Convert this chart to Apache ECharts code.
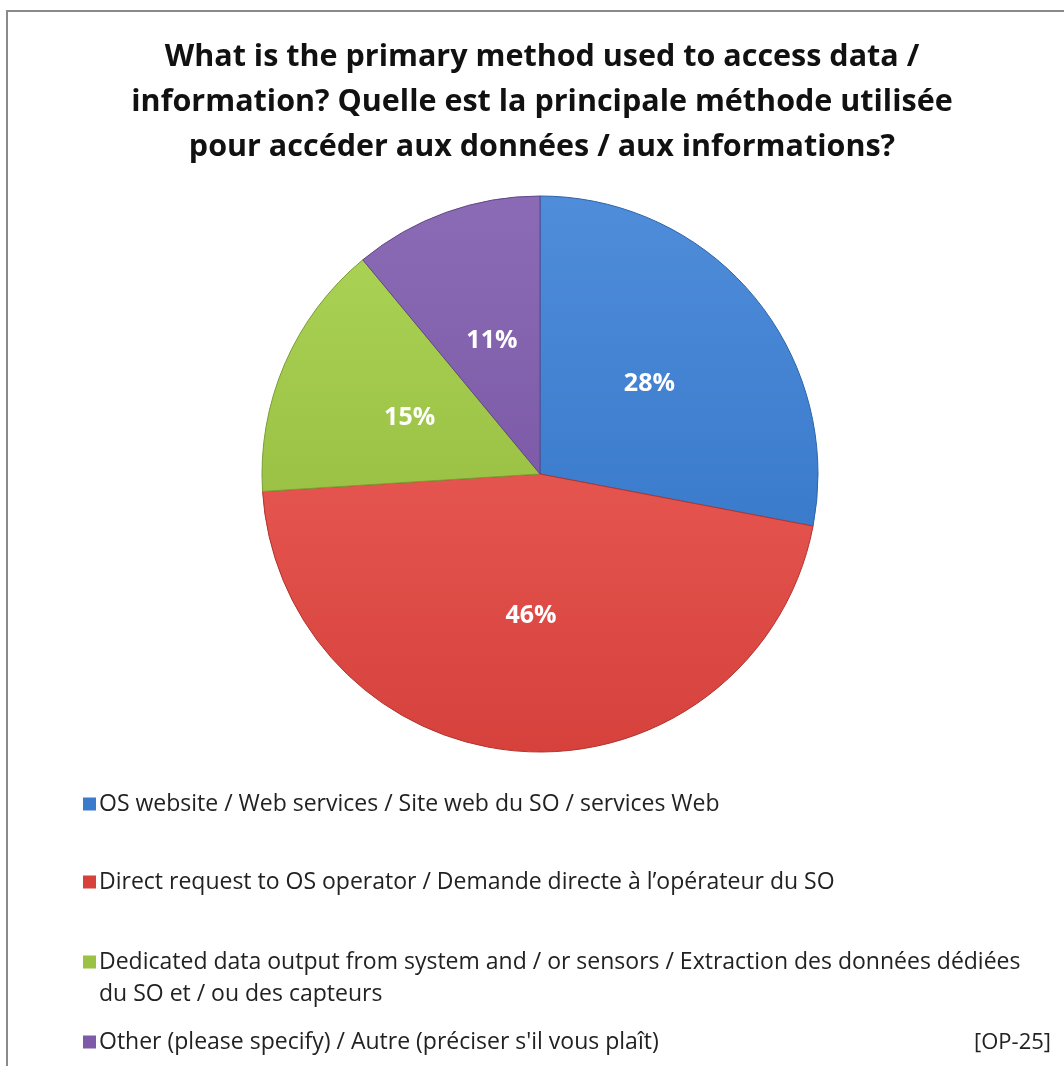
<!DOCTYPE html>
<html>
<head>
<meta charset="utf-8">
<script src="https://cdn.jsdelivr.net/npm/echarts@6/dist/echarts.min.js"></script>
<style>
html,body{margin:0;padding:0;background:#fff;}
#chart{width:1064px;height:1066px;}
</style>
</head>
<body>
<div id="chart"></div>
<script>
const titleText = "What is the primary method used to access data /\ninformation? Quelle est la principale méthode utilisée\npour accéder aux données / aux informations?";
const categories = [
  "OS website / Web services / Site web du SO / services Web",
  "Direct request to OS operator / Demande directe à l’opérateur du SO",
  "Dedicated data output from system and / or sensors / Extraction des données dédiées\ndu SO et / ou des capteurs",
  "Other (please specify) / Autre (préciser s'il vous plaît)"
];
const values = [28, 46, 15, 11];
const colors = ["#3b7bcc", "#d6413c", "#9bc245", "#7d5ba8"];
const edgeColors = ["#2d64a8", "#b0332e", "#7a9c33", "#614688"];
const lightColors = ["#4f8dda", "#e5554f", "#a9d154", "#8b6bb6"];
const legendTops = [783, 861, 941, 1021];
const footnote = "[OP-25]";

const FONT = "Open Sans";
const chart = echarts.init(document.getElementById('chart'), null, {renderer: 'canvas'});

const data = categories.map((c, i) => ({
  name: c,
  value: values[i],
  itemStyle: {
    color: new echarts.graphic.LinearGradient(0, 0, 0, 1, [
      {offset: 0, color: lightColors[i]},
      {offset: 1, color: colors[i]}
    ]),
    borderColor: edgeColors[i],
    borderWidth: 1
  }
}));

const twoLineIcon = 'path://M0,0h13v13h-13z M0,45h0.01v0.01h-0.01z';

const legends = categories.map((c, i) => {
  const multi = c.indexOf('\n') >= 0;
  return {
    data: [{name: c, itemStyle: {color: colors[i], borderWidth: 0}}],
    left: 78,
    top: legendTops[i],
    orient: 'vertical',
    icon: multi ? twoLineIcon : 'rect',
    itemWidth: 13,
    itemHeight: multi ? 45 : 13,
    itemGap: 0,
    selectedMode: false,
    textStyle: {fontFamily: FONT, fontSize: 23, color: '#222', lineHeight: 32, padding: [0, 0, 0, -2]}
  };
});

chart.setOption({
  animation: false,
  color: colors,
  title: [{
    text: titleText,
    left: 537,
    textAlign: 'center',
    top: 30,
    textStyle: {fontFamily: FONT, fontWeight: 'bold', fontSize: 30.5, lineHeight: 45, color: '#111'}
  }, {
    text: footnote,
    right: 8,
    top: 1027,
    textStyle: {fontFamily: FONT, fontWeight: 'normal', fontSize: 22, color: '#222'}
  }],
  legend: legends,
  graphic: [{
    type: 'rect',
    shape: {x: 7, y: 11, width: 1200, height: 1200},
    style: {fill: 'none', stroke: '#8a8a8a', lineWidth: 2},
    silent: true
  }],
  series: [{
    type: 'pie',
    center: [540, 474],
    radius: 278,
    startAngle: 90,
    clockwise: true,
    data: data,
    label: {
      show: true,
      position: 'inner',
      formatter: p => p.value + '%',
      fontFamily: FONT,
      fontWeight: 'bold',
      fontSize: 25,
      color: '#fff'
    },
    labelLine: {show: false},
    emphasis: {disabled: true}
  }]
});
</script>
</body>
</html>
